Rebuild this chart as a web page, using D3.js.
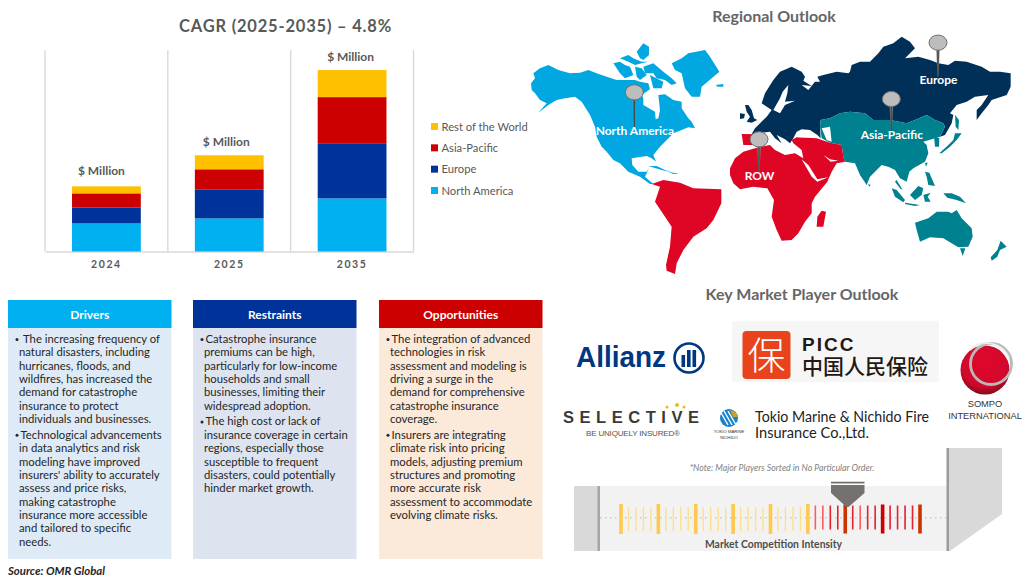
<!DOCTYPE html>
<html>
<head>
<meta charset="utf-8">
<script src="https://cdn.jsdelivr.net/npm/d3@7"></script>
<style>
html, body { margin: 0; padding: 0; background: #fff; }
svg { display: block; }
text { font-family: Lato, "Open Sans", sans-serif; }
</style>
</head>
<body>
<div id="chart"></div>
<script>
// bar chart values, no numbers printed in the source so read from bar heights
const years = ["2024", "2025", "2035"];
const regions = ["North America", "Europe", "Asia-Pacific", "Rest of the World"];
const northAmerica = [28, 33, 53];
const europe = [16, 29, 55];
const asiaPacific = [14, 20, 46];
const restOfWorld = [7, 14, 27];
const regionColors = ["#00b0f0", "#003399", "#cc0000", "#ffc000"];
const barLabels = ["$ Million", "$ Million", "$ Million"];

// text panels
const panelTitles = ["Drivers", "Restraints", "Opportunities"];
const driverLines = [
  ["The increasing frequency of", "natural disasters, including", "hurricanes, floods, and", "wildfires, has increased the", "demand for catastrophe", "insurance to protect", "individuals and businesses."],
  ["Technological advancements", "in data analytics and risk", "modeling have improved", "insurers' ability to accurately", "assess and price risks,", "making catastrophe", "insurance more accessible", "and tailored to specific", "needs."]
];
const restraintLines = [
  ["Catastrophe insurance", "premiums can be high,", "particularly for low-income", "households and small", "businesses, limiting their", "widespread adoption."],
  ["The high cost or lack of", "insurance coverage in certain", "regions, especially those", "susceptible to frequent", "disasters, could potentially", "hinder market growth."]
];
const opportunityLines = [
  ["The integration of advanced", "technologies in risk", "assessment and modeling is", "driving a surge in the", "demand for comprehensive", "catastrophe insurance", "coverage."],
  ["Insurers are integrating", "climate risk into pricing", "models, adjusting premium", "structures and promoting", "more accurate risk", "assessment to accommodate", "evolving climate risks."]
];

// competition strip, one entry per tick, 0-5 is the shade
const intensityTicks = [0,1,1,1,1,0,1,1,1,1,0,1,1,1,1,0,1,1,1,1,0,1,1,1,1,0,2,2,3,3,4,3,2,3,3,5,3,3,3,3,4];

// map outlines, map space is 3x page pixels from x=520
const naMainland = [[33,250],[45,235],[40,220],[60,205],[85,195],[115,210],[150,220],[180,218],[205,210],[230,220],[260,230],[290,240],[315,240],[345,240],[360,245],[385,250],[390,268],[365,285],[370,295],[370,315],[405,335],[407,358],[415,355],[420,330],[415,285],[435,283],[460,300],[485,305],[485,325],[505,355],[515,365],[525,385],[505,382],[485,390],[460,400],[455,405],[435,425],[420,440],[400,465],[408,485],[395,475],[380,468],[355,472],[335,475],[337,495],[355,515],[380,515],[387,505],[375,530],[380,535],[400,552],[390,552],[360,530],[325,515],[300,490],[280,480],[260,455],[245,440],[230,410],[225,380],[210,345],[185,305],[165,290],[135,295],[110,300],[85,315],[55,338],[80,310],[60,300],[45,280],[35,270]];
const naIslands = [
  [[280,190],[300,185],[315,195],[330,200],[340,225],[315,235],[300,220],[290,205]],
  [[370,200],[400,190],[430,215],[455,235],[470,250],[455,255],[435,240],[410,235],[400,220],[375,220]],
  [[350,155],[370,130],[387,140],[387,165],[370,180],[360,175]],
  [[300,175],[325,165],[340,175],[365,185],[385,185],[365,190],[345,195],[325,185]],
  [[345,200],[365,205],[380,225],[360,240],[350,230]],
  [[390,225],[430,245],[425,265],[400,265]],
  [[455,190],[485,175],[505,160],[555,150],[570,170],[598,215],[575,235],[545,260],[540,290],[515,290],[495,265],[485,220],[465,210]],
  [[587,255],[610,252],[610,260],[593,260]],
  [[385,498],[410,498],[435,510],[460,518],[425,510]],
  [[445,515],[477,522],[460,522]]
];
const rowShapes = [
  [[630,505],[645,475],[670,455],[715,442],[750,435],[765,450],[795,465],[825,460],[850,475],[845,450],[820,430],[815,420],[830,412],[890,415],[930,428],[965,435],[970,470],[975,485],[950,490],[935,515],[922,545],[885,590],[875,610],[875,640],[855,665],[835,700],[815,720],[785,722],[770,690],[755,650],[762,600],[742,565],[700,560],[660,568],[640,550],[630,525]],
  [[395,552],[430,540],[480,548],[520,565],[604,568],[604,610],[580,660],[560,685],[520,710],[490,750],[470,790],[465,822],[440,812],[438,795],[450,740],[455,680],[405,605],[420,560]],
  [[665,402],[720,403],[715,425],[700,435],[670,435]],
  [[905,632],[918,635],[910,680],[890,680],[892,650]]
];
const europeShapes = [
  [[695,402],[705,385],[715,375],[740,350],[755,330],[725,310],[735,280],[760,240],[780,215],[815,200],[845,215],[855,230],[850,242],[875,258],[845,255],[865,270],[885,245],[900,245],[892,230],[910,225],[950,215],[985,220],[990,215],[995,195],[1020,185],[1050,185],[1075,160],[1090,140],[1120,130],[1145,110],[1170,125],[1185,145],[1155,175],[1195,170],[1230,180],[1255,190],[1285,195],[1305,182],[1340,185],[1385,200],[1410,215],[1440,215],[1472,220],[1472,260],[1460,285],[1415,300],[1405,315],[1385,340],[1370,360],[1370,330],[1385,315],[1405,285],[1365,290],[1340,305],[1310,315],[1290,340],[1300,345],[1295,370],[1275,405],[1260,410],[1275,380],[1270,370],[1245,360],[1220,345],[1185,360],[1160,370],[1110,360],[1060,360],[1035,340],[990,335],[960,340],[930,355],[902,360],[900,380],[902,415],[892,405],[870,390],[845,388],[830,395],[820,415],[810,430],[795,418],[770,405],[785,430],[765,415],[750,395]],
  [[675,315],[685,315],[695,330],[702,355],[712,360],[695,368],[680,365],[690,350],[680,335]],
  [[660,340],[675,342],[672,355],[660,357]]
];
const asiaShapes = [
  [[902,360],[930,355],[960,340],[990,335],[1035,340],[1060,360],[1110,360],[1160,370],[1185,360],[1220,345],[1245,360],[1270,370],[1275,380],[1260,410],[1210,425],[1220,435],[1225,460],[1215,485],[1180,505],[1168,515],[1160,545],[1140,535],[1125,510],[1105,500],[1085,495],[1050,530],[1040,555],[1020,525],[1005,490],[975,485],[970,470],[965,435],[930,428],[905,415],[900,380]],
  [[1242,408],[1258,415],[1257,440],[1245,440]],
  [[1130,540],[1148,570],[1140,565],[1125,545]],
  [[1044,552],[1052,555],[1048,560]],
  [[1258,460],[1285,435],[1300,420],[1305,400],[1325,400],[1310,420],[1290,440],[1265,460]],
  [[1305,345],[1317,360],[1315,390],[1307,380]],
  [[1215,488],[1223,488],[1218,500]],
  [[1215,515],[1228,518],[1235,535],[1245,558],[1225,555],[1220,530]],
  [[1115,565],[1130,570],[1155,600],[1150,607],[1125,590]],
  [[1155,608],[1200,615],[1185,618],[1155,612]],
  [[1170,585],[1195,558],[1210,565],[1205,585],[1185,600]],
  [[1210,585],[1232,578],[1223,590],[1232,605],[1215,605]],
  [[1270,580],[1295,580],[1320,590],[1338,610],[1310,600],[1282,593]],
  [[1185,668],[1225,655],[1250,635],[1285,635],[1295,640],[1310,630],[1325,655],[1355,685],[1358,710],[1345,740],[1315,742],[1295,730],[1270,715],[1230,712],[1200,725],[1190,690]],
  [[1320,745],[1336,745],[1328,768]],
  [[1442,722],[1460,740],[1440,750],[1432,770],[1415,782],[1412,772],[1432,750]]
];
const mapSeas = [
  [[805,255],[788,275],[780,295],[760,330],[780,340],[795,315],[825,302],[795,305],[802,280]],
  [[835,398],[855,392],[892,408],[870,412],[835,412]],
  [[905,385],[930,380],[935,425],[920,420]],
  [[845,478],[865,495],[892,538],[925,532],[892,545],[875,530]],
  [[910,465],[930,478],[955,482],[932,485]],
  [[258,458],[275,478],[298,500],[275,488]]
];
const mapPins = [
  {name: "North America", x: 343, y: 277, stem: 385, labelY: 405},
  {name: "Europe", x: 1254, y: 128, stem: 230, labelY: 251},
  {name: "Asia-Pacific", x: 1114, y: 297, stem: 395, labelY: 418},
  {name: "ROW", x: 717, y: 418, stem: 518, labelY: 541}
];

const svg = d3.select("#chart").append("svg").attr("width", 1034).attr("height", 585);
const defs = svg.append("defs");

// stacked bars
const margin = {top: 50, right: 620.5, bottom: 333.5, left: 45};
const x = d3.scaleBand().domain(years).range([margin.left, 1034 - margin.right]).paddingInner(0.44).paddingOuter(0.22);
const y = d3.scaleLinear().domain([0, 201]).range([585 - margin.bottom, margin.top]);
const stackRows = years.map((yr, i) => ({
  year: yr,
  "North America": northAmerica[i],
  "Europe": europe[i],
  "Asia-Pacific": asiaPacific[i],
  "Rest of the World": restOfWorld[i]
}));
const stacked = d3.stack().keys(regions)(stackRows);
const color = d3.scaleOrdinal().domain(regions).range(regionColors);

svg.append("text").attr("x", 285.5).attr("y", 32).attr("text-anchor", "middle")
  .style("font-size", "16.5px").style("font-weight", 700).style("letter-spacing", "0.8px")
  .attr("fill", "#595959").text("CAGR (2025-2035) – 4.8%");

const step = x.step();
d3.range(4).forEach(i => {
  svg.append("line")
    .attr("x1", margin.left + step * i).attr("x2", margin.left + step * i)
    .attr("y1", margin.top).attr("y2", y(0))
    .attr("stroke", "#d9d9d9").attr("stroke-width", 1.4);
});
const xAxis = svg.append("g").attr("transform", `translate(0,${y(0)})`)
  .call(d3.axisBottom(x).tickSize(0).tickPadding(9));
xAxis.select(".domain").attr("stroke", "#d9d9d9").attr("stroke-width", 1.4);
xAxis.selectAll("text").style("font-family", "Lato").style("font-size", "10.5px").style("font-weight", 700)
  .style("letter-spacing", "1.6px").attr("fill", "#595959");

svg.selectAll(".layer").data(stacked).enter().append("g")
  .attr("class", "layer").attr("fill", d => color(d.key))
  .selectAll("rect").data(d => d).enter().append("rect")
  .attr("x", d => x(d.data.year))
  .attr("y", d => y(d[1]))
  .attr("width", x.bandwidth())
  .attr("height", d => y(d[0]) - y(d[1]));

const topOffsets = [-11, -9, -9];
const labelShift = [-5, -3, -1.5];
svg.selectAll(".barLabel").data(years).enter().append("text")
  .attr("class", "barLabel")
  .attr("x", (d, i) => x(d) + x.bandwidth() / 2 + labelShift[i])
  .attr("y", (d, i) => y(northAmerica[i] + europe[i] + asiaPacific[i] + restOfWorld[i]) + topOffsets[i])
  .attr("text-anchor", "middle").style("font-size", "12px").style("font-weight", 700)
  .attr("fill", "#595959").text((d, i) => barLabels[i]);

// legend is drawn top down
const legendY = d3.scalePoint().domain(regions.slice().reverse()).range([126.5, 190.5]);
regions.forEach(r => {
  svg.append("rect").attr("x", 431).attr("y", legendY(r) - 3.5).attr("width", 7).attr("height", 7).attr("fill", color(r));
  svg.append("text").attr("x", 441.5).attr("y", legendY(r) + 4).style("font-size", "11.2px").attr("fill", "#595959").text(r);
});

// map
svg.append("text").attr("x", 774).attr("y", 22).attr("text-anchor", "middle")
  .style("font-size", "16px").style("font-weight", 700).attr("fill", "#666666").text("Regional Outlook");

const mapX = d3.scaleLinear().domain([0, 1542]).range([520, 1034]);
const mapY = d3.scaleLinear().domain([0, 855]).range([0, 285]);
const closedLine = d3.line().x(d => mapX(d[0])).y(d => mapY(d[1])).curve(d3.curveLinearClosed);

[[[naMainland].concat(naIslands), "#00a7e1"], [europeShapes, "#003057"], [asiaShapes, "#00818f"], [rowShapes, "#df0524"], [mapSeas, "#ffffff"]].forEach(group => {
  svg.append("g").selectAll("path").data(group[0]).enter().append("path")
    .attr("d", closedLine).attr("fill", group[1]);
});

const pinGrad = defs.append("linearGradient").attr("id", "stemGrad");
pinGrad.append("stop").attr("offset", "0").attr("stop-color", "#9a9a9a");
pinGrad.append("stop").attr("offset", "0.5").attr("stop-color", "#404040");
pinGrad.append("stop").attr("offset", "1").attr("stop-color", "#a5a5a5");

const pins = svg.append("g").selectAll("g").data(mapPins).enter().append("g");
pins.append("path")
  .attr("d", d => `M${mapX(d.x) - 2},${mapY(d.y)} L${mapX(d.x) + 2},${mapY(d.y)} L${mapX(d.x) + 0.6},${mapY(d.stem)} L${mapX(d.x) - 0.6},${mapY(d.stem)} Z`)
  .attr("fill", "url(#stemGrad)");
pins.append("ellipse")
  .attr("cx", d => mapX(d.x)).attr("cy", d => mapY(d.y))
  .attr("rx", 9).attr("ry", 7.6)
  .attr("fill", "#bdbdbd").attr("stroke", "#6f6f6f").attr("stroke-width", 1);
pins.append("text")
  .attr("x", d => mapX(d.x) + 0.5).attr("y", d => mapY(d.labelY))
  .attr("text-anchor", "middle").style("font-size", "12px").style("font-weight", 700)
  .attr("fill", "#fff").text(d => d.name);

// panels
const panelX = d3.scaleOrdinal().domain(panelTitles).range([8, 193, 379]);
const panelW = 163.5;
const headColors = ["#00b0f0", "#003399", "#cc0000"];
const bodyColors = ["#deebf7", "#dde4f0", "#fbe9da"];
const panelText = [driverLines, restraintLines, opportunityLines];
const lineStep = 13.36;

panelTitles.forEach((t, p) => {
  const px = panelX(t);
  svg.append("rect").attr("x", px).attr("y", 328).attr("width", panelW).attr("height", 231).attr("fill", bodyColors[p]);
  svg.append("rect").attr("x", px).attr("y", 300).attr("width", panelW).attr("height", 28).attr("fill", headColors[p]);
  svg.append("text").attr("x", px + panelW / 2).attr("y", 318.5).attr("text-anchor", "middle")
    .style("font-size", "12px").style("font-weight", 700).attr("fill", "#fff").text(t);
  let ty = 343;
  panelText[p].forEach((lines, b) => {
    svg.append("circle").attr("cx", px + 9).attr("cy", ty - 3.5).attr("r", 1.5).attr("fill", "#262626");
    lines.forEach((ln, i) => {
      let tx = px + 11;
      if (i === 0) tx = px + (p === 0 && b === 0 ? 15 : 12.5);
      svg.append("text").attr("x", tx).attr("y", ty + i * lineStep)
        .style("font-size", "11.3px").attr("fill", "#262626").text(ln);
    });
    ty += lines.length * lineStep + 2.3;
  });
});

svg.append("text").attr("x", 8).attr("y", 575).style("font-size", "11.4px").style("font-weight", 700)
  .style("font-style", "italic").attr("fill", "#262626").text("Source: OMR Global");

// logos
svg.append("text").attr("x", 802).attr("y", 300).attr("text-anchor", "middle")
  .style("font-size", "16px").style("font-weight", 700).attr("fill", "#666666").text("Key Market Player Outlook");

const sansLogo = "Liberation Sans";
const allianz = svg.append("g");
allianz.append("text").attr("x", 576).attr("y", 367).style("font-family", sansLogo).style("font-size", "29px")
  .style("font-weight", 700).attr("fill", "#003781").attr("textLength", 90).attr("lengthAdjust", "spacingAndGlyphs").text("Allianz");
allianz.append("circle").attr("cx", 689).attr("cy", 358).attr("r", 14.5).attr("fill", "none").attr("stroke", "#003781").attr("stroke-width", 2.6);
allianz.selectAll("rect").data([[-7.5, -3, 12], [-2, -8, 17], [3.5, -8, 17]]).enter().append("rect")
  .attr("x", d => 689 + d[0]).attr("y", d => 358 + d[1]).attr("width", 3.6).attr("height", d => d[2]).attr("fill", "#003781");

svg.append("rect").attr("x", 732).attr("y", 321).attr("width", 207).attr("height", 61).attr("fill", "#f6f6f6");
svg.append("rect").attr("x", 742.5).attr("y", 331).attr("width", 48).attr("height", 48).attr("rx", 4).attr("fill", "#e8431a");
svg.append("text").attr("x", 766.5).attr("y", 369).attr("text-anchor", "middle").style("font-family", "Noto Sans CJK SC")
  .style("font-size", "38px").style("font-weight", 300).attr("fill", "#fff").text("保");
svg.append("text").attr("x", 802).attr("y", 351).style("font-family", sansLogo).style("font-size", "19px").style("font-weight", 700)
  .style("letter-spacing", "2px").attr("fill", "#231815").text("PICC");
svg.append("text").attr("x", 802).attr("y", 374).style("font-family", "Noto Sans CJK SC").style("font-size", "21px").style("font-weight", 500)
  .attr("fill", "#231815").text("中国人民保险");

const redGrad = defs.append("radialGradient").attr("id", "sompoRed").attr("cx", "0.5").attr("cy", "0.35").attr("r", "0.7");
redGrad.append("stop").attr("offset", "0").attr("stop-color", "#e2062c");
redGrad.append("stop").attr("offset", "0.7").attr("stop-color", "#cf0a2c");
redGrad.append("stop").attr("offset", "1").attr("stop-color", "#6d0a14");
svg.append("circle").attr("cx", 985).attr("cy", 370).attr("r", 24.5).attr("fill", "url(#sompoRed)");
svg.append("circle").attr("cx", 991).attr("cy", 364).attr("r", 20.5).attr("fill", "none").attr("stroke", "#b9b9b9").attr("stroke-width", 2.8);
svg.append("path").attr("d", "M970,350 A24,24 0 0 1 1009,358").attr("fill", "none").attr("stroke", "#ececec").attr("stroke-width", 2);
svg.append("text").attr("x", 985).attr("y", 407).attr("text-anchor", "middle").style("font-family", sansLogo).style("font-size", "9.3px").attr("fill", "#333").text("SOMPO");
svg.append("text").attr("x", 985).attr("y", 419).attr("text-anchor", "middle").style("font-family", sansLogo).style("font-size", "9.3px").attr("fill", "#333").text("INTERNATIONAL");

svg.append("text").attr("x", 563).attr("y", 423).style("font-family", sansLogo).style("font-size", "16.5px").style("font-weight", 700)
  .attr("fill", "#3a3a3a").attr("textLength", 136).text("SELECTIVE");
svg.selectAll(".selDot").data([[667, 407, 1.5], [677, 405, 2], [684, 407, 1.5]]).enter().append("circle").attr("class", "selDot")
  .attr("cx", d => d[0]).attr("cy", d => d[1]).attr("r", d => d[2]).attr("fill", "#f5b81c");
svg.append("text").attr("x", 633).attr("y", 436).attr("text-anchor", "middle").style("font-family", sansLogo).style("font-size", "8px")
  .attr("fill", "#555").attr("textLength", 94).text("BE UNIQUELY INSURED®");

svg.append("circle").attr("cx", 729).attr("cy", 418).attr("r", 9).attr("fill", "#1583c7");
svg.selectAll(".tmStripe").data([-4, 0, 4]).enter().append("line").attr("class", "tmStripe")
  .attr("x1", d => 724 + d).attr("y1", 411).attr("x2", d => 732 + d).attr("y2", 425)
  .attr("stroke", "#fff").attr("stroke-width", 1.4);
svg.append("path").attr("d", "M730,410 A9,9 0 0 1 738,417 L733,417 Z").attr("fill", "#c9a227");
svg.append("text").attr("x", 729).attr("y", 433).attr("text-anchor", "middle").style("font-family", sansLogo).style("font-size", "4.2px").attr("fill", "#333").text("TOKIO MARINE");
svg.append("text").attr("x", 729).attr("y", 438.5).attr("text-anchor", "middle").style("font-family", sansLogo).style("font-size", "4.2px").attr("fill", "#333").text("NICHIDO");
svg.append("text").attr("x", 755).attr("y", 421.5).style("font-size", "14.5px").attr("fill", "#222")
  .attr("textLength", 174).attr("lengthAdjust", "spacingAndGlyphs").text("Tokio Marine & Nichido Fire");
svg.append("text").attr("x", 755).attr("y", 438).style("font-size", "14.5px").attr("fill", "#222")
  .attr("textLength", 114).attr("lengthAdjust", "spacingAndGlyphs").text("Insurance Co.,Ltd.");

// competition strip
svg.append("text").attr("x", 782).attr("y", 471).attr("text-anchor", "middle").style("font-size", "8.8px")
  .style("font-style", "italic").attr("fill", "#7f7f7f").text("*Note: Major Players Sorted in No Particular Order.");

const strip = svg.append("g");
strip.append("polygon").attr("points", "948,448 1002,448 1002,514 950,551 948,551").attr("fill", "#d9d9d9");
strip.append("rect").attr("x", 574).attr("y", 486).attr("width", 26).attr("height", 65).attr("fill", "#d9d9d9");
strip.append("rect").attr("x", 600).attr("y", 486).attr("width", 348).attr("height", 65).attr("fill", "#f2f2f2");
strip.append("rect").attr("x", 597.5).attr("y", 486).attr("width", 2.5).attr("height", 65).attr("fill", "#a6a6a6");
strip.append("rect").attr("x", 946.5).attr("y", 448).attr("width", 2.5).attr("height", 103).attr("fill", "#9b9b9b");
strip.append("line").attr("x1", 600).attr("x2", 947).attr("y1", 517.7).attr("y2", 517.7)
  .attr("stroke", "#c9c9c9").attr("stroke-width", 1.4).attr("stroke-dasharray", "1.5 3.5");

const tickX = d3.scalePoint().domain(d3.range(intensityTicks.length)).range([621, 920]);
const tickColor = ["#ffc94d", "#ffe08a", "#ff5a5f", "#e8202c", "#cc3300", "#cc0000"];
const tickWide = [3.6, 1.4, 1.6, 1.6, 3.6, 3.6];
const tickHalf = [15, 12, 12, 12, 14.5, 14.5];
strip.selectAll(".tick").data(intensityTicks).enter().append("rect").attr("class", "tick")
  .attr("x", (d, i) => tickX(i) - tickWide[d] / 2)
  .attr("y", (d, i) => 519 - tickHalf[d] - (d > 1 && d < 4 ? 1.5 : 0))
  .attr("width", d => tickWide[d])
  .attr("height", d => tickHalf[d] * 2)
  .attr("fill", d => tickColor[d]);

strip.append("rect").attr("x", 831).attr("y", 481.7).attr("width", 33.5).attr("height", 1.8).attr("fill", "#767171");
strip.append("polygon").attr("points", "831,485 864.5,485 864.5,493 848.5,507 846.5,507 831,493").attr("fill", "#767171");
svg.append("text").attr("x", 773.5).attr("y", 548).attr("text-anchor", "middle").style("font-size", "10.4px").style("font-weight", 700)
  .attr("fill", "#4d4d4d").text("Market Competition Intensity");
</script>
</body>
</html>
